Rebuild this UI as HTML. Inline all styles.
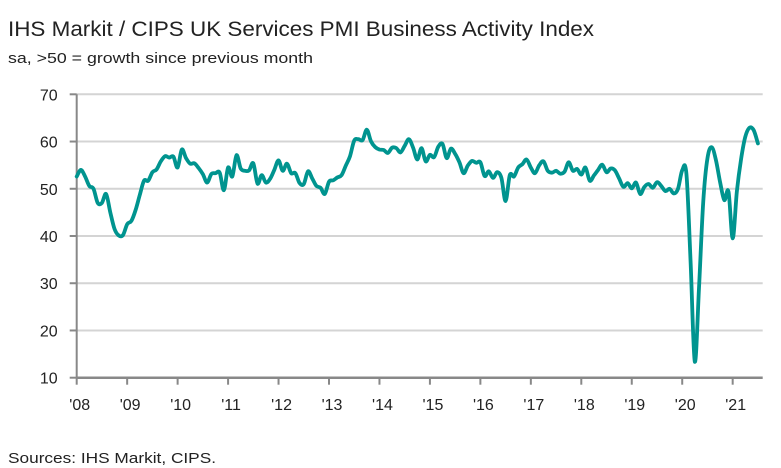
<!DOCTYPE html>
<html><head><meta charset="utf-8"><style>
body{margin:0;background:#fff;width:781px;height:468px;overflow:hidden;font-family:"Liberation Sans",sans-serif;}
svg{display:block}
</style></head><body>
<svg width="781" height="468" id="c">
<text x="8" y="36" font-size="21" fill="#222" textLength="586" lengthAdjust="spacingAndGlyphs">IHS Markit / CIPS UK Services PMI Business Activity Index</text>
<text x="8" y="63" font-size="15" fill="#222" textLength="305" lengthAdjust="spacingAndGlyphs">sa, &gt;50 = growth since previous month</text>
<text x="8" y="463" font-size="15" fill="#222" textLength="208" lengthAdjust="spacingAndGlyphs">Sources: IHS Markit, CIPS.</text>
<g id="grid"></g><g id="axes"></g><g id="series"></g>
</svg>
<script>
const yTicks=[10,20,30,40,50,60,70];
const yearLabels=["'08","'09","'10","'11","'12","'13","'14","'15","'16","'17","'18","'19","'20","'21"];
const pmiValues=[
52.6,54.0,52.6,50.6,50.0,47.0,47.0,48.9,45.0,41.5,40.1,40.2,
42.5,43.2,45.5,48.7,51.7,51.7,53.5,54.1,55.8,56.9,56.6,56.8,
54.5,58.3,56.5,55.3,55.4,54.4,53.1,51.3,53.1,53.3,53.4,49.7,
54.5,52.6,57.1,54.3,53.8,53.9,55.4,51.1,52.9,51.3,52.1,54.0,
56.0,53.8,55.3,53.3,53.3,51.2,51.0,53.7,52.2,50.6,50.2,48.9,
51.5,51.8,52.4,52.9,54.9,56.9,60.2,60.5,60.3,62.5,60.0,58.8,
58.3,58.2,57.6,58.7,58.6,57.7,59.1,60.5,58.7,56.2,58.6,55.8,
57.2,56.7,58.9,59.5,56.5,58.5,57.4,55.6,53.3,54.9,55.9,55.5,
55.6,52.7,53.7,52.3,53.5,52.3,47.4,52.9,52.6,54.5,55.2,56.2,
54.5,53.3,55.0,55.8,53.8,53.4,53.8,53.2,53.6,55.6,53.8,54.2,
53.0,54.5,51.7,52.8,54.0,55.1,53.5,54.3,53.9,52.2,50.4,51.2,
50.1,51.3,48.9,50.4,51.0,50.2,51.4,50.6,49.5,50.0,49.0,50.0,
53.9,53.2,34.5,13.4,29.0,47.1,56.5,58.8,56.1,51.4,47.6,49.4,
39.5,49.5,56.3,61.0,62.9,62.4,59.6];
const NS="http://www.w3.org/2000/svg";
const x0=76.7,yearW=50.46,xEnd=762.7,y70=94.3,y10=377.7;
const X=m=>x0+m*yearW/12;
const Y=v=>y10-(v-10)*(y10-y70)/60;
function mk(t,a,p){const e=document.createElementNS(NS,t);for(const k in a)e.setAttribute(k,a[k]);p.appendChild(e);return e;}
const grid=document.getElementById('grid'),axes=document.getElementById('axes'),ser=document.getElementById('series');
yTicks.forEach(v=>{
  if(v>10){const l=mk('line',{x1:x0,x2:xEnd,y1:Y(v),y2:Y(v),stroke:'#d4d4d4','stroke-width':2},grid);
  
  }
  const tk=mk('line',{x1:x0-7,x2:x0,y1:Y(v),y2:Y(v),stroke:'#888','stroke-width':2},axes);
  
  
  const t=mk('text',{x:x0-19,y:Y(v)+6,'font-size':16,fill:'#222','text-anchor':'end'},axes);
  t.textContent=v;
  
  
});
const ya=mk('line',{x1:x0,x2:x0,y1:y70,y2:y10,stroke:'#888','stroke-width':2},axes);


const xa=mk('line',{x1:x0,x2:xEnd,y1:y10,y2:y10,stroke:'#888','stroke-width':2.5},axes);


yearLabels.forEach((s,i)=>{
  const x=X(i*12);
  const tk=mk('line',{x1:x,x2:x,y1:y10,y2:y10+7,stroke:'#888','stroke-width':2},axes);
  
  
  const t=mk('text',{x:x+3,y:410,'font-size':16,fill:'#222','text-anchor':'middle'},axes);
  t.textContent=s;
  
  
});
const pts=pmiValues.map((v,i)=>[X(i),Y(v)]);
let d='M'+pts[0][0].toFixed(1)+','+pts[0][1].toFixed(1);
for(let i=0;i<pts.length-1;i++){
  const p0=pts[Math.max(0,i-1)],p1=pts[i],p2=pts[i+1],p3=pts[Math.min(pts.length-1,i+2)];
  const c1=[p1[0]+(p2[0]-p0[0])/6,p1[1]+(p2[1]-p0[1])/6];
  const c2=[p2[0]-(p3[0]-p1[0])/6,p2[1]-(p3[1]-p1[1])/6];
  d+='C'+c1.map(n=>n.toFixed(1))+' '+c2.map(n=>n.toFixed(1))+' '+p2.map(n=>n.toFixed(1));
}
const p=mk('path',{d:d,fill:'none',stroke:'#00948f','stroke-width':3.8,'stroke-linejoin':'round','stroke-linecap':'round'},ser);


</script>
</body></html>
